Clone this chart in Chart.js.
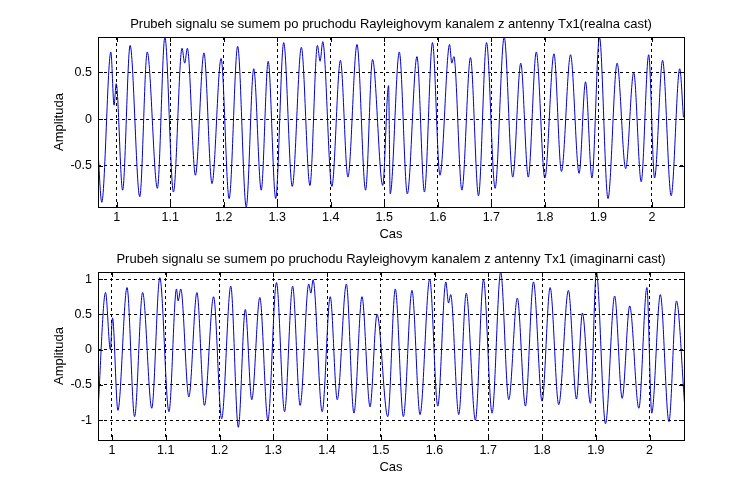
<!DOCTYPE html>
<html><head><meta charset="utf-8">
<script src="https://cdn.jsdelivr.net/npm/chart.js@4"></script>
<style>body{margin:0;background:#fff;width:756px;height:496px;overflow:hidden}canvas{position:absolute;left:0}</style>
</head><body>
<canvas id="c1" style="top:0" width="756" height="248"></canvas>
<canvas id="c2" style="top:248px" width="756" height="248"></canvas>
<script>
const topTitle = "Prubeh signalu se sumem po pruchodu Rayleighovym kanalem z antenny Tx1(realna cast)";
const botTitle = "Prubeh signalu se sumem po pruchodu Rayleighovym kanalem z antenny Tx1 (imaginarni cast)";
const xTicks = [1,1.1,1.2,1.3,1.4,1.5,1.6,1.7,1.8,1.9,2];
const topYTicks = [-0.5,0,0.5];
const botYTicks = [-1,-0.5,0,0.5,1];
const topX = [0.965,0.972,0.989,0.995,0.999,1.011,1.025,1.043,1.057,1.076,1.090,1.106,1.122,1.127,1.132,1.147,1.163,1.178,1.195,1.210,1.226,1.242,1.256,1.270,1.283,1.297,1.312,1.328,1.345,1.361,1.375,1.380,1.385,1.402,1.418,1.432,1.449,1.465,1.478,1.497,1.508,
1.511,1.528,1.543,1.561,1.575,1.590,1.604,1.622,1.626,1.630,1.645,1.661,1.676,1.691,1.707,1.724,1.740,1.755,1.769,1.784,1.800,1.817,1.831,1.848,1.864,1.876,1.888,1.902,1.918,1.935,1.951,1.966,1.980,1.994,2.005,2.020,2.036,2.052,2.059];
const topY = [-0.34,-0.89,0.72,0.15,0.38,-0.76,0.79,-0.83,0.72,-0.74,0.88,-0.78,0.76,0.60,0.76,-0.60,0.71,-0.69,0.65,-0.85,0.78,-0.94,0.54,-0.76,0.62,-0.85,0.82,-0.72,0.77,-0.71,0.79,0.62,0.83,-0.72,0.63,-0.62,0.80,-0.76,0.64,-0.71,0.36,
-0.80,0.72,-0.80,0.67,-0.78,0.82,-0.60,0.80,0.60,0.67,-0.76,0.66,-0.82,0.82,-0.74,0.88,-0.62,0.60,-0.62,0.72,-0.63,0.70,-0.56,0.69,-0.58,0.40,-0.63,0.88,-0.85,0.60,-0.53,0.50,-0.67,0.69,-0.63,0.63,-0.82,0.54,0.02];
const botX = [0.974,0.988,0.997,1.001,1.011,1.028,1.042,1.057,1.074,1.089,1.106,1.120,1.123,1.128,1.143,1.158,1.172,1.189,1.204,1.221,1.235,1.248,1.260,1.275,1.290,1.306,1.321,1.336,1.350,1.366,1.370,1.374,1.391,1.406,1.419,1.436,1.450,1.465,1.480,1.493,
1.513,1.527,1.542,1.558,1.573,1.591,1.606,1.621,1.626,1.630,1.645,1.659,1.676,1.691,1.707,1.723,1.738,1.754,1.769,1.784,1.800,1.815,1.831,1.849,1.864,1.875,1.890,1.901,1.918,1.935,1.949,1.963,1.980,1.995,2.004,2.020,2.036,2.050,2.065];
const botY = [-0.86,0.81,0.0,0.45,-0.86,0.88,-0.95,0.81,-0.83,1.02,-0.88,0.86,0.69,0.86,-0.67,0.81,-0.79,0.75,-0.98,0.90,-1.10,0.57,-0.71,0.74,-1.0,0.95,-0.88,0.90,-0.79,0.93,0.80,0.99,-0.88,0.75,-0.71,0.93,-0.90,0.75,-0.81,0.50,
-0.95,0.86,-0.95,0.84,-0.92,1.0,-0.80,0.96,0.66,0.78,-0.92,0.80,-1.0,0.99,-0.90,1.1,-0.71,0.73,-0.80,0.96,-0.73,0.88,-0.78,0.84,-0.70,0.52,-0.76,1.1,-1.05,0.76,-0.69,0.62,-0.83,0.88,-0.90,0.78,-1.02,0.69,-0.76];

const FONT = "'Liberation Sans', Arial, sans-serif";
function fmt(v){return String(Math.round(v*10)/10);}
function make(id, title, xs, ys, xmin, xmax, ymin, ymax, yTicks){
  const pts = xs.map((x,i)=>({x, y: ys[i]}));
  const deco = {
    id:'deco',
    afterDraw(c){
      const ctx=c.ctx, a=c.chartArea;
      ctx.save();
      ctx.strokeStyle='#000'; ctx.lineWidth=1; ctx.setLineDash([]);
      ctx.strokeRect(Math.round(a.left)+0.5, Math.round(a.top)+0.5, Math.round(a.right-a.left), Math.round(a.bottom-a.top));
      const xs=c.scales.x, ysc=c.scales.y;
      ctx.beginPath();
      xTicks.forEach(t=>{const p=Math.round(xs.getPixelForValue(t))+0.5; ctx.moveTo(p,a.bottom); ctx.lineTo(p,a.bottom-5); ctx.moveTo(p,a.top); ctx.lineTo(p,a.top+5);});
      yTicks.forEach(t=>{const p=Math.round(ysc.getPixelForValue(t))+0.5; ctx.moveTo(a.left,p); ctx.lineTo(a.left+5,p); ctx.moveTo(a.right,p); ctx.lineTo(a.right-5,p);});
      ctx.stroke();
      ctx.fillStyle='#000'; ctx.font='13px '+FONT; ctx.textAlign='center'; ctx.textBaseline='alphabetic';
      ctx.fillText(title,(a.left+a.right)/2, a.top-9);
      ctx.fillText('Cas',(a.left+a.right)/2, a.bottom+31);
      ctx.translate(a.left-35,(a.top+a.bottom)/2); ctx.rotate(-Math.PI/2);
      ctx.fillText('Amplituda',0,0);
      ctx.restore();
    }
  };
  const grid = {color:'#000', lineWidth:1, drawTicks:false};
  return new Chart(document.getElementById(id), {
    type:'line',
    data:{datasets:[{data:pts, borderColor:'#0000d0', borderWidth:1, pointRadius:0, cubicInterpolationMode:'monotone', fill:false}]},
    options:{
      responsive:false, animation:false, events:[],
      plugins:{legend:{display:false}, tooltip:{enabled:false}},
      layout:{padding:{left:0,right:72,top:id==='c1'?37:24,bottom:0}},
      scales:{
        x:{type:'linear', min:xmin, max:xmax,
           afterBuildTicks(s){s.ticks=xTicks.map(v=>({value:v}));},
           afterFit(s){s.height=id==='c1'?41:56;},
           ticks:{callback:fmt, color:'#000', font:{family:FONT,size:12.5}, padding:3, maxRotation:0, autoSkip:false},
           grid:grid, border:{display:false, dash:[3,3]}},
        y:{type:'linear', min:ymin, max:ymax,
           afterBuildTicks(s){s.ticks=yTicks.map(v=>({value:v}));},
           afterFit(s){s.width=98;},
           ticks:{callback:fmt, color:'#000', font:{family:FONT,size:12.5}, padding:6},
           grid:grid, border:{display:false, dash:[3,3]}}
      }
    },
    plugins:[deco]
  });
}
make('c1', topTitle, topX, topY, 0.965, 2.06, -0.94, 0.88, topYTicks);
make('c2', botTitle, botX, botY, 0.974, 2.064, -1.28, 1.1, botYTicks);
</script>
</body></html>
